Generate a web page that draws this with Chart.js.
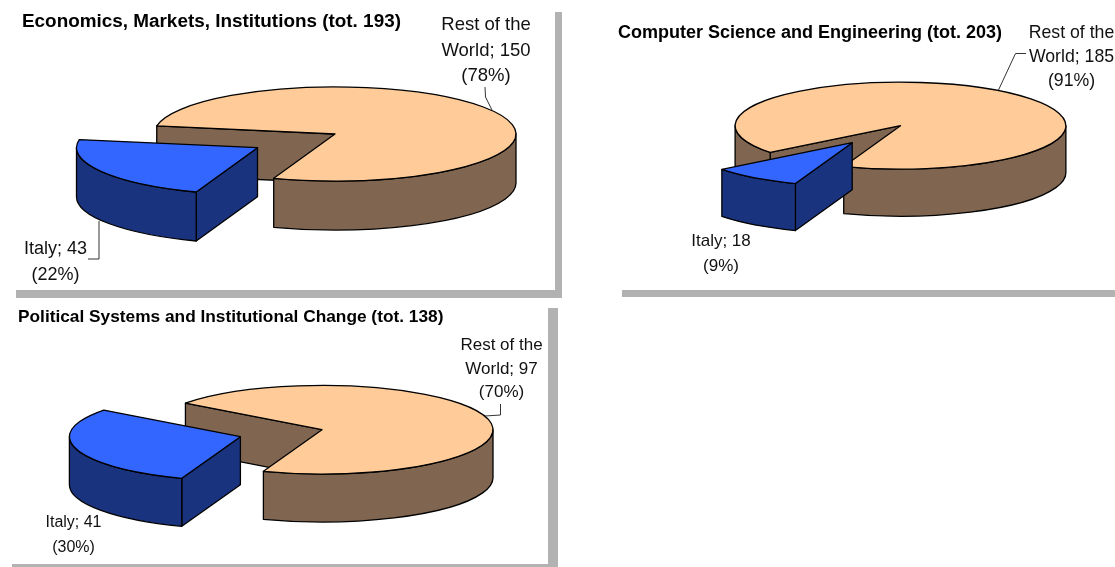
<!DOCTYPE html>
<html>
<head>
<meta charset="utf-8">
<title>Italy vs Rest of the World</title>
<script src="https://cdn.jsdelivr.net/npm/chart.js@4/dist/chart.umd.min.js"></script>
<style>
  html,body{margin:0;padding:0;background:#fff;overflow:hidden;width:1115px;height:567px}
  canvas{position:absolute}
  .bar{position:absolute;background:#b2b2b2}
</style>
</head>
<body>
<div class="bar" style="left:555px;top:12px;width:7px;height:286px"></div>
<div class="bar" style="left:16px;top:290px;width:546px;height:8px"></div>
<div class="bar" style="left:622px;top:290px;width:493px;height:7px"></div>
<div class="bar" style="left:548px;top:308px;width:10px;height:259px"></div>
<div class="bar" style="left:12px;top:564px;width:546px;height:3px"></div>
<canvas id="econ"></canvas>
<canvas id="cs"></canvas>
<canvas id="pol"></canvas>
<script>
const categoryLines = [['Rest of the', 'World'], ['Italy']];
const categories = ['Rest of the World', 'Italy'];
const econValues = [150, 43];
const csValues = [185, 18];
const polValues = [97, 41];
const econTitle = 'Economics, Markets, Institutions';
const csTitle = 'Computer Science and Engineering';
const polTitle = 'Political Systems and Institutional Change';

const TOP_COLORS = ['#ffcc99', '#3366ff'];
const SIDE_COLORS = ['#806650', '#19337f'];

function labelLines(i, values){
  const total = values[0] + values[1];
  const head = categoryLines[i].slice(0, -1);
  const last = categoryLines[i][categoryLines[i].length - 1];
  return [...head, last + '; ' + values[i], '(' + Math.round(values[i] / total * 100) + '%)'];
}

function drawSlice(ctx, el, fill, side, squash, depth, ox, oy){
  const cx = el.x + ox, cy = el.y + oy;
  const rx = el.outerRadius, ry = rx * squash;
  const a = el.startAngle, b = el.endAngle;
  const rim = t => [cx + rx * Math.cos(t), cy + ry * Math.sin(t)];
  ctx.lineWidth = 1.3;
  ctx.strokeStyle = '#000';
  ctx.lineJoin = 'round';

  // radial walls that face the viewer
  [[a, Math.cos(a) < 0], [b, Math.cos(b) > 0]].forEach(([t, visible]) => {
    if(!visible) return;
    const p = rim(t);
    ctx.beginPath();
    ctx.moveTo(cx, cy);
    ctx.lineTo(p[0], p[1]);
    ctx.lineTo(p[0], p[1] + depth);
    ctx.lineTo(cx, cy + depth);
    ctx.closePath();
    ctx.fillStyle = side;
    ctx.fill();
    ctx.stroke();
  });

  // outer wall, only the front half of the rim
  for(let k = 0; k < 2; k++){
    const from = Math.max(a, k * 2 * Math.PI);
    const to = Math.min(b, k * 2 * Math.PI + Math.PI);
    if(to <= from) continue;
    ctx.beginPath();
    ctx.ellipse(cx, cy, rx, ry, 0, from, to);
    ctx.ellipse(cx, cy + depth, rx, ry, 0, to, from, true);
    ctx.closePath();
    ctx.fillStyle = side;
    ctx.fill();
    ctx.stroke();
  }

  // top face
  ctx.beginPath();
  ctx.moveTo(cx, cy);
  ctx.ellipse(cx, cy, rx, ry, 0, a, b);
  ctx.closePath();
  ctx.fillStyle = fill;
  ctx.fill();
  ctx.stroke();
}

const pie3d = {
  id: 'pie3d',
  beforeDatasetDraw(chart, args, opts){
    const ctx = chart.ctx;
    const arcs = chart.getDatasetMeta(args.index).data;
    ctx.save();
    arcs.forEach((el, i) => {
      const pull = i === 1 ? opts.pull : [0, 0];
      drawSlice(ctx, el, el.options.backgroundColor, SIDE_COLORS[i], opts.squash, opts.depth, pull[0], pull[1]);
    });
    ctx.restore();
    return false;
  },
  afterDraw(chart, args, opts){
    const ctx = chart.ctx;
    const values = chart.data.datasets[0].data;
    ctx.save();
    ctx.translate(-opts.left, -opts.top);
    ctx.strokeStyle = '#333';
    ctx.lineWidth = 1;
    opts.leaders.forEach(line => {
      ctx.beginPath();
      line.forEach((p, j) => j ? ctx.lineTo(p[0], p[1]) : ctx.moveTo(p[0], p[1]));
      ctx.stroke();
    });
    ctx.fillStyle = '#111';
    ctx.textAlign = 'center';
    ctx.textBaseline = 'middle';
    opts.labels.forEach((lab, i) => {
      ctx.font = lab.size + 'px "Liberation Sans", Arial, sans-serif';
      labelLines(i, values).forEach((txt, j) => ctx.fillText(txt, lab.x, lab.y + j * lab.gap));
    });
    ctx.restore();
  }
};

function makePie(id, title, values, cfg){
  const cv = document.getElementById(id);
  cv.width = cfg.width;
  cv.height = cfg.height;
  cv.style.left = cfg.left + 'px';
  cv.style.top = cfg.top + 'px';
  const total = values[0] + values[1];
  const titleH = cfg.titleSize * 1.2;
  return new Chart(cv.getContext('2d'), {
    type: 'pie',
    data: { labels: categories, datasets: [{ data: values, backgroundColor: TOP_COLORS }] },
    plugins: [pie3d],
    options: {
      responsive: false,
      animation: false,
      radius: cfg.radius,
      rotation: cfg.rotation,
      layout: { padding: { bottom: cfg.height - (2 * (cfg.centerY - cfg.top) - titleH) } },
      plugins: {
        legend: { display: false },
        tooltip: { enabled: false },
        title: {
          display: true,
          text: title + ' (tot. ' + total + ')',
          align: 'start',
          color: '#000',
          padding: 0,
          font: { family: '"Liberation Sans", Arial, sans-serif', size: cfg.titleSize, weight: 'bold', lineHeight: 1.2 }
        },
        pie3d: {
          squash: cfg.squash, depth: cfg.depth, pull: cfg.pull,
          left: cfg.left, top: cfg.top, labels: cfg.labels, leaders: cfg.leaders
        }
      }
    }
  });
}

makePie('econ', econTitle, econValues, {
  left: 22, top: 10, width: 626, height: 280, centerY: 134, titleSize: 18.9,
  radius: 181, rotation: 280, squash: 0.26, depth: 49, pull: [-77.5, 13.7],
  labels: [{ x: 486, y: 25, gap: 25.5, size: 18.5 }, { x: 55.5, y: 249, gap: 26, size: 18 }],
  leaders: [[[485, 87], [485.5, 97], [492, 110]], [[99, 221], [99, 259], [88, 259]]]
});
makePie('cs', csTitle, csValues, {
  left: 618, top: 22, width: 565, height: 268, centerY: 125.7, titleSize: 18,
  radius: 165.4, rotation: 232, squash: 0.263, depth: 47, pull: [-48.3, 17],
  labels: [{ x: 1071.5, y: 33.5, gap: 23.6, size: 17.7 }, { x: 721, y: 241.5, gap: 25, size: 17 }],
  leaders: [[[1026, 53.5], [1015.5, 53.5], [998.5, 90]]]
});
makePie('pol', polTitle, polValues, {
  left: 18, top: 307, width: 608, height: 257, centerY: 429.7, titleSize: 17.3,
  radius: 171, rotation: 307, squash: 0.259, depth: 48, pull: [-81.6, 7],
  labels: [{ x: 501.5, y: 345.5, gap: 23.5, size: 17 }, { x: 73.5, y: 522.5, gap: 24.7, size: 16 }],
  leaders: [[[500.5, 404], [500.5, 415], [485, 416]]]
});
</script>
</body>
</html>
